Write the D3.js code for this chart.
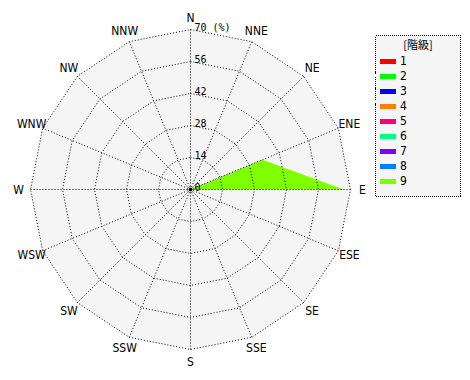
<!DOCTYPE html>
<html>
<head>
<meta charset="utf-8">
<script src="https://cdn.jsdelivr.net/npm/d3@7"></script>
<style>
  body { margin: 0; background: #fff; }
  svg { display: block; font-family: "Liberation Sans Narrow", "DejaVu Sans Condensed", sans-serif; }
</style>
</head>
<body>
<svg id="chart" width="470" height="380"></svg>
<script>
// wind rose (percent by direction), stacked by class

const directions = ["N", "NNE", "NE", "ENE", "E", "ESE", "SE", "SSE",
  "S", "SSW", "SW", "WSW", "W", "WNW", "NW", "NNW"];

const classNames = ["1", "2", "3", "4", "5", "6", "7", "8", "9"];
const classColors = ["#ff0000", "#00ff00", "#0000ff", "#ff8000", "#ff0080",
  "#00ff80", "#8000ff", "#0080ff", "#80ff00"];

// percent per direction for each class (only class 9 has data)
const class1 = [0, 0, 0, 0, 0, 0, 0, 0, 0, 0, 0, 0, 0, 0, 0, 0];
const class2 = [0, 0, 0, 0, 0, 0, 0, 0, 0, 0, 0, 0, 0, 0, 0, 0];
const class3 = [0, 0, 0, 0, 0, 0, 0, 0, 0, 0, 0, 0, 0, 0, 0, 0];
const class4 = [0, 0, 0, 0, 0, 0, 0, 0, 0, 0, 0, 0, 0, 0, 0, 0];
const class5 = [0, 0, 0, 0, 0, 0, 0, 0, 0, 0, 0, 0, 0, 0, 0, 0];
const class6 = [0, 0, 0, 0, 0, 0, 0, 0, 0, 0, 0, 0, 0, 0, 0, 0];
const class7 = [0, 0, 0, 0, 0, 0, 0, 0, 0, 0, 0, 0, 0, 0, 0, 0];
const class8 = [0, 0, 0, 0, 0, 0, 0, 0, 0, 0, 0, 0, 0, 0, 0, 0];
const class9 = [0, 0, 0, 34, 67, 0, 0, 0, 0, 0, 0, 0, 0, 0, 0, 0];

const ringTicks = [0, 14, 28, 42, 56, 70];

const cx = 190.5;
const cy = 189.5;
const radius = 160;

const svg = d3.select("#chart");

const rScale = d3.scaleLinear().domain([0, 70]).range([0, radius]);
const angle = (i) => (i * 2 * Math.PI) / directions.length;

const gridLine = d3
  .lineRadial()
  .angle((d, i) => angle(i))
  .radius((d) => rScale(d))
  .curve(d3.curveLinearClosed);

const chart = svg.append("g").attr("transform", `translate(${cx},${cy})`);

// background
chart
  .append("path")
  .attr("d", gridLine(directions.map(() => 70)))
  .attr("fill", "#f5f5f5");

// stacked class polygons, outermost first
const series = [class1, class2, class3, class4, class5, class6, class7, class8, class9];
const cumulative = [];
series.forEach((s, k) => {
  cumulative.push(s.map((v, i) => v + (k > 0 ? cumulative[k - 1][i] : 0)));
});

for (let k = series.length - 1; k >= 0; k--) {
  if (d3.max(series[k]) === 0) continue;
  chart
    .append("path")
    .attr("d", gridLine(cumulative[k]))
    .attr("fill", classColors[k])
    .attr("stroke", "none");
}

// rings
chart
  .selectAll(".ring")
  .data(ringTicks.slice(1))
  .enter()
  .append("path")
  .attr("class", "ring")
  .attr("d", (t) => gridLine(directions.map(() => t)))
  .attr("fill", "none")
  .attr("stroke", "#000")
  .attr("stroke-dasharray", "1,2");

// spokes
chart
  .selectAll(".spoke")
  .data(directions)
  .enter()
  .append("line")
  .attr("class", "spoke")
  .attr("x1", 0)
  .attr("y1", 0)
  .attr("x2", (d, i) => Math.sin(angle(i)) * rScale(70))
  .attr("y2", (d, i) => -Math.cos(angle(i)) * rScale(70))
  .attr("stroke", "#000")
  .attr("stroke-dasharray", "1,2");

chart.append("circle").attr("r", 2).attr("fill", "#000");

// tick labels
chart
  .selectAll(".tick-label")
  .data(ringTicks)
  .enter()
  .append("text")
  .attr("x", 4)
  .attr("y", (t) => -rScale(t) + 1)
  .attr("font-family", "'DejaVu Sans Mono', monospace")
  .attr("font-size", 10)
  .attr("fill", "#000")
  .text((t) => (t === 70 ? "70 (%)" : t));

// direction labels
chart
  .selectAll(".dir")
  .data(directions)
  .enter()
  .append("text")
  .attr("x", (d, i) => Math.sin(angle(i)) * (radius + 12))
  .attr("y", (d, i) => -Math.cos(angle(i)) * (radius + 12))
  .attr("text-anchor", "middle")
  .attr("dominant-baseline", "central")
  .attr("font-size", 12)
  .attr("fill", "#000")
  .text((d) => d);

// legend
const legend = svg.append("g").attr("transform", "translate(375,35)");

legend
  .append("rect")
  .attr("x", 0.5)
  .attr("y", 0.5)
  .attr("width", 85)
  .attr("height", 161)
  .attr("fill", "#f5f5f5")
  .attr("stroke", "#000")
  .attr("stroke-dasharray", "1,1")
  .attr("shape-rendering", "crispEdges");

legend
  .append("text")
  .attr("x", 43)
  .attr("y", 14)
  .attr("text-anchor", "middle")
  .attr("font-family", "'Noto Sans CJK JP', sans-serif")
  .attr("font-size", 11)
  .attr("fill", "#000")
  .text("[階級]");

const items = legend
  .selectAll(".item")
  .data(classNames)
  .enter()
  .append("g")
  .attr("transform", (d, i) => `translate(5,${26 + i * 15})`);

items
  .append("rect")
  .attr("x", 0)
  .attr("y", -2)
  .attr("width", 16)
  .attr("height", 5)
  .attr("fill", (d, i) => classColors[i]);

items
  .append("text")
  .attr("x", 20)
  .attr("y", 0)
  .attr("dominant-baseline", "central")
  .attr("font-size", 12)
  .attr("fill", "#000")
  .text((d) => d);
</script>
</body>
</html>
